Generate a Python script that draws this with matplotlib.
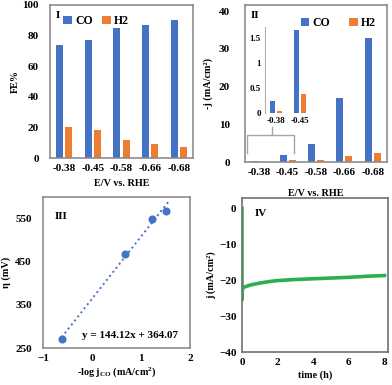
import numpy as np
import matplotlib
matplotlib.use("Agg")
import matplotlib.pyplot as plt

plt.rcParams['font.family'] = ['Liberation Serif', 'DejaVu Serif']
plt.rcParams['font.weight'] = 'bold'
plt.rcParams['mathtext.fontset'] = 'custom'
plt.rcParams['mathtext.rm'] = 'Liberation Serif:bold'
plt.rcParams['mathtext.it'] = 'Liberation Serif:bold'
plt.rcParams['mathtext.bf'] = 'Liberation Serif:bold'

# data
potentials = ['-0.38', '-0.45', '-0.58', '-0.66', '-0.68']
fe_co = [74, 77, 85, 87, 90]
fe_h2 = [20, 18, 12, 9, 7]

j_co = [0.25, 1.9, 4.7, 17.0, 32.9]
j_h2 = [0.05, 0.4, 0.6, 1.7, 2.5]

inset_labels = ['-0.38', '-0.45']
inset_co = [0.25, 1.67]
inset_h2 = [0.05, 0.39]

tafel_x = [-0.62, 0.68, 1.22, 1.52]
tafel_y = [270, 468, 549, 568]
fit_slope = 144.12
fit_icpt = 364.07
fit_x = [-0.62, 1.56]

time_h = [0, 0, 0.02, 0.1, 0.25, 0.5, 1.0, 1.5, 2.0, 3.0, 4.0, 5.0, 6.0, 6.7, 7.0, 8.0]
j_t = [0, -25.5, -22.4, -22.0, -21.7, -21.3, -20.8, -20.4, -20.1, -19.8, -19.6, -19.4, -19.2, -19.0, -18.9, -18.7]

BLUE = '#4472C4'
ORANGE = '#ED7D31'
GREEN = '#2bb04f'
FRAME = '#8c8c8c'
FS = 8
LFS = 7.3

W, H = 392, 385
fig = plt.figure(figsize=(W / 100, H / 100), dpi=100)


def box(l, t, r, b):
    return [l / W, (H - b) / H, (r - l) / W, (b - t) / H]


def frame(ax, color=FRAME, lw=1.2):
    for s in ax.spines.values():
        s.set_color(color)
        s.set_linewidth(lw)
    ax.tick_params(length=0, labelsize=FS, pad=4)


# Panel I
ax1 = fig.add_axes(box(50, 5, 193, 158))
x = np.arange(len(potentials))
ax1.bar(x - 0.16, fe_co, width=0.25, color=BLUE, label='CO')
ax1.bar(x + 0.16, fe_h2, width=0.25, color=ORANGE, label='H2')
ax1.set_xlim(-0.5, 4.5)
ax1.set_ylim(0, 100)
ax1.set_yticks([0, 20, 40, 60, 80, 100])
ax1.set_xticks(x)
ax1.set_xticklabels(potentials)
frame(ax1)
ax1.tick_params(axis='y', pad=8)
ax1.set_ylabel('FE%', fontsize=LFS, fontweight='bold', labelpad=2)
ax1.set_xlabel('E/V vs. RHE', fontsize=LFS, fontweight='bold', labelpad=5)
ax1.text(0.04, 0.96, 'I', transform=ax1.transAxes, fontsize=8, fontweight='bold', va='top')
ax1.legend(ncol=2, frameon=False, loc='center left', bbox_to_anchor=(0.06, 0.895),
           fontsize=8.5, handlelength=0.7, handleheight=0.7, handletextpad=0.3,
           columnspacing=0.8, borderaxespad=0)

# Panel II
ax2 = fig.add_axes(box(245, 5, 387, 162))
ax2.bar(x - 0.16, j_co, width=0.25, color=BLUE, label='CO')
ax2.bar(x + 0.16, j_h2, width=0.25, color=ORANGE, label='H2')
ax2.set_xlim(-0.5, 4.5)
ax2.set_ylim(0, 41.6)
ax2.set_yticks([0, 10, 20, 30, 40])
ax2.set_xticks(x)
ax2.set_xticklabels(potentials)
frame(ax2)
ax2.tick_params(axis='y', pad=11)
ax2.set_ylabel('-j (mA/cm²)', fontsize=LFS, fontweight='bold', labelpad=4)
ax2.set_xlabel('E/V vs. RHE', fontsize=LFS, fontweight='bold', labelpad=9)
ax2.text(0.04, 0.96, 'II', transform=ax2.transAxes, fontsize=8, fontweight='bold', va='top')
ax2.legend(ncol=2, frameon=False, loc='center left', bbox_to_anchor=(0.36, 0.885),
           fontsize=8.5, handlelength=0.7, handleheight=0.7, handletextpad=0.3,
           columnspacing=1.6, borderaxespad=0)
# bracket
bc = '#a6a6a6'
ax2.plot([-0.43, -0.43, 1.23, 1.23], [2.4, 7.2, 7.2, 2.4], color=bc, lw=1)
ax2.plot([0.45, 0.45], [7.2, 9.3], color=bc, lw=1)

# inset
axi = fig.add_axes(box(265, 27, 312, 113))
xi = np.arange(len(inset_labels))
axi.bar(xi - 0.15, inset_co, width=0.21, color=BLUE)
axi.bar(xi + 0.15, inset_h2, width=0.21, color=ORANGE)
axi.set_xlim(-0.46, 1.5)
axi.set_ylim(0, 1.73)
axi.set_yticks([0, 0.5, 1, 1.5])
axi.set_yticklabels(['0', '0.5', '1', '1.5'])
axi.set_xticks(xi)
axi.set_xticklabels(inset_labels)
axi.patch.set_alpha(0)
for s in ['top', 'right', 'bottom']:
    axi.spines[s].set_visible(False)
axi.spines['left'].set_color('#b0b0b0')
axi.tick_params(length=0, labelsize=6.5, pad=3)

# Panel III
ax3 = fig.add_axes(box(43, 197, 190, 348))
fx = np.array(fit_x)
ax3.plot(fx, fit_slope * fx + fit_icpt, linestyle=':', color=BLUE, lw=1.4)
ax3.plot(tafel_x, tafel_y, 'o', color=BLUE, markersize=4.8)
ax3.set_xlim(-1, 2)
ax3.set_ylim(250, 600)
ax3.set_xticks([-1, 0, 1, 2])
ax3.set_yticks([250, 350, 450, 550])
frame(ax3)
ax3.tick_params(axis='y', pad=8)
ax3.set_ylabel('η (mV)', fontsize=LFS, fontweight='bold', labelpad=3)
ax3.set_xlabel(r'-log j$_{\rm CO}$ (mA/cm$^{\rm 2}$)', fontsize=LFS, fontweight='bold', labelpad=2)
ax3.text(0.08, 0.9, 'III', transform=ax3.transAxes, fontsize=8, fontweight='bold', va='top')
ax3.text(0.92, 0.08, 'y = 144.12x + 364.07', transform=ax3.transAxes, fontsize=8,
         fontweight='bold', ha='right', va='center')

# Panel IV
ax4 = fig.add_axes(box(242, 198, 388, 352))
ax4.plot(time_h, j_t, color=GREEN, lw=2.6)
ax4.set_xlim(0, 8.2)
ax4.set_ylim(-40, 2.9)
ax4.set_xticks([0, 2, 4, 6, 8])
ax4.set_yticks([0, -10, -20, -30, -40])
frame(ax4, color='#707070')
ax4.set_ylabel('j (mA/cm²)', fontsize=LFS, fontweight='bold', labelpad=2)
ax4.set_xlabel('time (h)', fontsize=LFS, fontweight='bold', labelpad=3)
ax4.text(0.09, 0.93, 'IV', transform=ax4.transAxes, fontsize=8, fontweight='bold', va='top')

fig.savefig('out.png', dpi=100)
